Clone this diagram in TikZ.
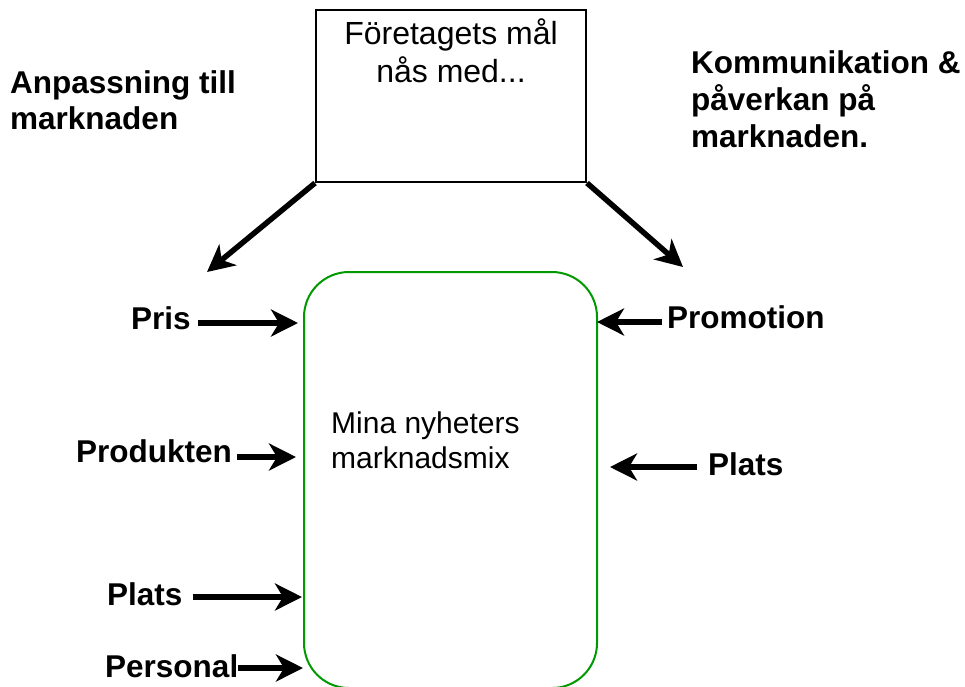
\documentclass[tikz,border=0pt]{standalone}
\usepackage{fontspec}
\setmainfont{Liberation Sans}
\usetikzlibrary{arrows.meta}
\definecolor{boxgreen}{HTML}{009900}
\tikzset{
  lbl/.style={font=\fontsize{31.5}{37}\selectfont\bfseries, inner sep=0pt, anchor=base west},
  mlbl/.style={font=\fontsize{31.5}{36}\selectfont\bfseries, inner sep=0pt, anchor=north west, align=left},
  plain/.style={font=\fontsize{30}{35}\selectfont, inner sep=0pt},
  arr/.style={line width=5.5pt, -{Stealth[length=27pt,width=27pt,inset=8pt]}},
}
\begin{document}
\begin{tikzpicture}[x=1pt,y=-1pt]
\useasboundingbox (0,0) rectangle (965,686);
% top box
\node[draw, line width=2pt, minimum width=270pt, minimum height=172pt, inner sep=0pt] (goal) at (451,96) {};
\node[plain, font=\fontsize{32}{38}\selectfont, anchor=north, align=center] (goaltext) at (451,18.5) {Företagets mål\\nås med...};
% green box
\node[draw=boxgreen, line width=2pt, rounded corners=45pt, minimum width=293pt, minimum height=416pt, inner sep=0pt] (mix) at (450.5,480) {};
\node[plain, anchor=north west, align=left] (mixtext) at (331,411.5) {Mina nyheters\\marknadsmix};
% headings
\node[mlbl] (anp) at (10,70.4) {Anpassning till\\marknaden};
\node[mlbl, font=\fontsize{31.5}{37}\selectfont\bfseries] (kom) at (691,50.4) {Kommunikation \&\\påverkan på\\marknaden.};
% labels
\node[lbl] (pris) at (131,329) {Pris};
\node[lbl] (prod) at (76,462) {Produkten};
\node[lbl] (platsL) at (107,605) {Plats};
\node[lbl] (pers) at (105,677) {Personal};
\node[lbl] (promo) at (667,328) {Promotion};
\node[lbl] (platsR) at (708,475) {Plats};
% arrow end points
\coordinate (leftTip) at (207,272);
\coordinate (rightTip) at (683,267);
\coordinate (prisTip) at (298,323);
\coordinate (prodTip) at (296,457);
\coordinate (platsLTip) at (302,597);
\coordinate (persTip) at (303,668);
\coordinate (promoTip) at (597,322);
\coordinate (platsRTip) at (610,467);
% diagonal arrows
\draw[arr] (goal.south west) -- (leftTip);
\draw[arr] (goal.south east) -- (rightTip);
% horizontal arrows
\draw[arr] ([xshift=7pt]pris.east |- prisTip) -- (prisTip);
\draw[arr] ([xshift=5pt]prod.east |- prodTip) -- (prodTip);
\draw[arr] ([xshift=10pt]platsL.east |- platsLTip) -- (platsLTip);
\draw[arr] ([xshift=0pt]pers.east |- persTip) -- (persTip);
\draw[arr] ([xshift=-5pt]promo.west |- promoTip) -- (promoTip);
\draw[arr] ([xshift=-11pt]platsR.west |- platsRTip) -- (platsRTip);
\end{tikzpicture}
\end{document}
